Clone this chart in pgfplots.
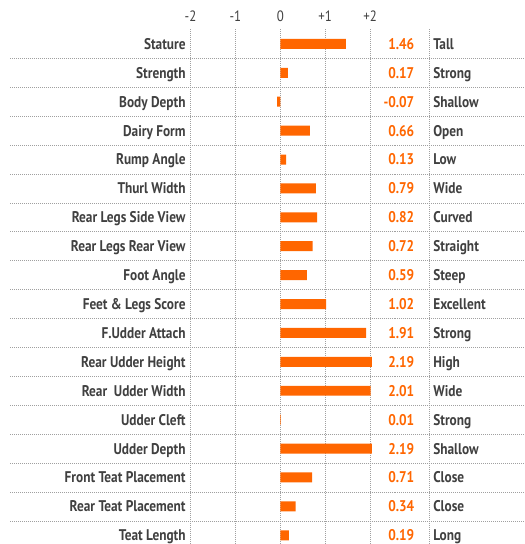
\documentclass[border=0pt]{standalone}
\usepackage{pgfplots}
\usepackage{pgfplotstable}
\pgfplotsset{compat=1.18}
\usepackage{fontspec}
\setmainfont[FakeStretch=0.86]{PT Sans}
\definecolor{barorange}{HTML}{FF6600}
\definecolor{txtgray}{HTML}{404040}
\definecolor{gridgray}{HTML}{A0A0A0}

\pgfplotstableread[col sep=comma]{
k,val,name,desc
18,1.46,Stature,Tall
17,0.17,Strength,Strong
16,-0.07,Body Depth,Shallow
15,0.66,Dairy Form,Open
14,0.13,Rump Angle,Low
13,0.79,Thurl Width,Wide
12,0.82,Rear Legs Side View,Curved
11,0.72,Rear Legs Rear View,Straight
10,0.59,Foot Angle,Steep
9,1.02,Feet \& Legs Score,Excellent
8,1.91,F.Udder Attach,Strong
7,2.19,Rear Udder Height,High
6,2.01,Rear\ \ Udder Width,Wide
5,0.01,Udder Cleft,Strong
4,2.19,Udder Depth,Shallow
3,0.71,Front Teat Placement,Close
2,0.34,Rear Teat Placement,Close
1,0.19,Teat Length,Long
}\data

\pgfplotstableread[col sep=comma]{
x,lab
-2,-2
-1,-1
0,0
1,+1
2,+2
}\ticks

\tikzset{sepline/.style={gridgray, line width=0.6pt, dash pattern=on 1pt off 1pt}}

\begin{document}
\begin{tikzpicture}
\begin{axis}[
  width=525pt, height=514.5pt, scale only axis,
  xmin=-6.238, xmax=5.429, ymin=0.724, ymax=18.5,
  clip=false,
  axis line style={draw=none},
  major tick length=0pt,
  xtick=\empty, ytick=\empty,
  every node near coord/.append style={font=\fontsize{15.5}{18}\selectfont\bfseries, inner sep=0pt},
  txt/.style={only marks, mark=text, text mark={}, point meta=explicit symbolic, nodes near coords},
]
% row separators
\pgfplotsinvokeforeach{1,...,17}{
  \draw[sepline] (axis cs:-6.015,#1.5) -- (axis cs:5.429,#1.5);
}
% vertical grid lines
\pgfplotsinvokeforeach{-2,-1,0,1,2,3.32}{
  \draw[sepline] (axis cs:#1,18.5) -- (axis cs:#1,0.724);
}
% category labels
\addplot[txt, nodes near coords style={anchor=base east, yshift=-5.45pt, text=txtgray}]
  table[x expr=-2.104, y=k, meta=name]{\data};
% values
\addplot[txt, nodes near coords style={anchor=base east, yshift=-5.45pt, text=barorange}]
  table[x expr=2.984, y=k, meta=val]{\data};
% descriptions
\addplot[txt, nodes near coords style={anchor=base west, yshift=-5.45pt, text=txtgray}]
  table[x expr=3.40, y=k, meta=desc]{\data};
% tick labels
\addplot[txt, nodes near coords style={anchor=base, yshift=7.5pt, text=txtgray, font=\fontsize{15}{18}\selectfont}]
  table[x=x, y expr=18.5, meta=lab]{\ticks};
\coordinate (bl) at (axis cs:-2,0.724);
\coordinate (tl) at (axis cs:-6.238,18.5);
\coordinate (br) at (axis cs:5.429,0.724);
\end{axis}
\begin{axis}[
  at={(bl)}, anchor=south west,
  width=181.8pt, height=514.5pt, scale only axis,
  xmin=-2, xmax=2.04, ymin=0.724, ymax=18.5,
  hide axis,
]
\addplot[xbar, fill=barorange, draw=none, bar width=10pt] table[x=val, y=k]{\data};
\end{axis}
\path ([yshift=29.5pt]tl) rectangle (br);
\end{tikzpicture}
\end{document}
